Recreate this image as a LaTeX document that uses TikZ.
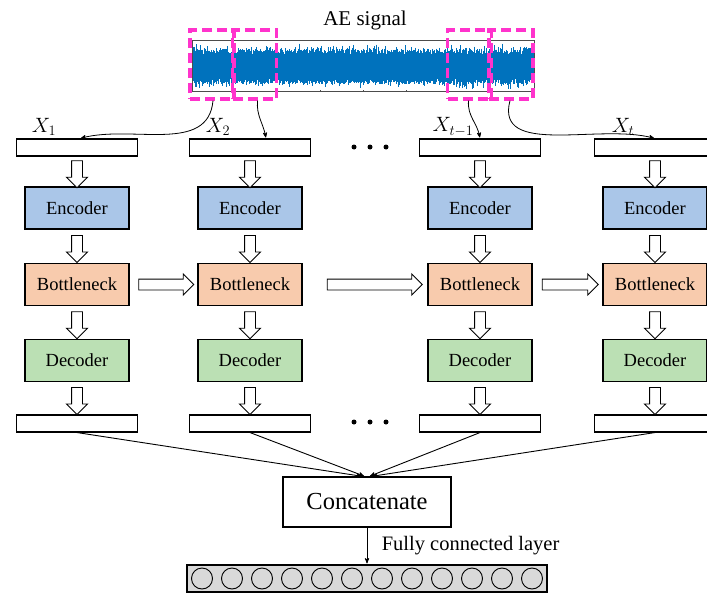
\documentclass[tikz,border=0pt]{standalone}
\usepackage{fontspec}
\setmainfont{Liberation Serif}
\usetikzlibrary{arrows,shapes.arrows,calc}

\definecolor{encblue}{RGB}{170,198,232}
\definecolor{botorange}{RGB}{248,203,173}
\definecolor{decgreen}{RGB}{187,224,180}
\definecolor{aeblue}{RGB}{0,114,189}
\definecolor{winpink}{RGB}{255,51,204}

\begin{document}
\begin{tikzpicture}[x=1pt,y=-1pt,>=stealth',shorten >=1pt,line width=1.1,
    bar/.style={rectangle,draw,fill=white,minimum width=121,minimum height=17,inner sep=0},
    box node/.style={rectangle,draw,minimum width=104,minimum height=42,inner sep=0,
      font=\fontsize{18.5}{20}\selectfont},
    enc node/.style={box node,fill=encblue},
    bot node/.style={box node,fill=botorange},
    dec node/.style={box node,fill=decgreen},
    fat arrow/.style={single arrow,draw,fill=white,line width=0.9,minimum width=20,
      single arrow head extend=5,inner sep=5},
    fat down/.style={fat arrow,shape border rotate=270,minimum height=27},
    win/.style={draw=winpink,line width=3.2,dash pattern=on 10 off 5,
      minimum width=44,minimum height=69,inner sep=0},
    xlab/.style={font=\fontsize{20}{20}\selectfont},
    dot/.style={circle,fill,minimum size=5,inner sep=0},
    neuron/.style={circle,draw,fill=gray!30,line width=0.9,minimum size=21,inner sep=0}]
  \useasboundingbox (0,0) rectangle (707,594);

  % AE signal
  \node[font=\fontsize{21}{21}\selectfont] (title) at (365,20) {AE signal};
  \pgfmathsetseed{3}
  \foreach \i in {0,...,570}{
    \pgfmathsetmacro\up{13+5*rnd+6*rnd^6}
    \pgfmathsetmacro\dn{13+5*rnd+6*rnd^6}
    \draw[aeblue,line width=0.8] (192.5+\i*0.6,67-\up) -- (192.5+\i*0.6,67+\dn);
  }
  \draw[black!70,line width=0.7] (192,40.5) rectangle (534,91);
  \foreach \k in {0,...,8}{
    \draw[black!70,line width=0.5] (192+42.75*\k,91) -- ++(0,-2);
    \draw[black!70,line width=0.5] (192+42.75*\k,40.5) -- ++(0,2);
  }
  \node[win] (w1) at (212,64.5) {};
  \node[win] (w2) at (254.5,64.5) {};
  \node[win] (w3) at (469.5,64.5) {};
  \node[win] (w4) at (511,64.5) {};

  % columns
  \foreach \i/\x in {1/77,2/250,3/480,4/655}{
    \node[bar] (in\i) at (\x,147.5) {};
    \node[enc node] (enc\i) at (\x,208) {Encoder};
    \node[bot node] (bot\i) at (\x,284.5) {Bottleneck};
    \node[dec node] (dec\i) at (\x,360.5) {Decoder};
    \node[bar] (out\i) at (\x,423.5) {};
    \node[fat down] (a\i) at ($(in\i.south)!0.5!(enc\i.north)$) {};
    \node[fat down] (b\i) at ($(enc\i.south)!0.5!(bot\i.north)$) {};
    \node[fat down] (c\i) at ($(bot\i.south)!0.5!(dec\i.north)$) {};
    \node[fat down] (d\i) at ($(dec\i.south)!0.5!(out\i.north)$) {};
  }
  \node[fat arrow,minimum height=55] (h1) at ($(bot1.east)!0.5!(bot2.west)$) {};
  \node[fat arrow,minimum height=95] (h2) at ([xshift=7]$(bot2.east)!0.5!(bot3.west)$) {};
  \node[fat arrow,minimum height=56] (h3) at ($(bot3.east)!0.5!(bot4.west)$) {};

  \foreach \d in {0,1,2}{
    \node[dot] (ta\d) at (354+16*\d,147) {};
    \node[dot] (tb\d) at (354+16*\d,422) {};
  }

  \node[xlab] (x1) at (44,127) {$X_1$};
  \node[xlab] (x2) at (218,127) {$X_2$};
  \node[xlab] (x3) at (453,127) {$X_{t-1}$};
  \node[xlab] (x4) at (623,127) {$X_t$};

  \path[->,line width=0.8]
    ([xshift=1]w1.south) edge [out=-95,in=15] ([xshift=3]in1.north)
    ([xshift=3]w2.south) edge [out=-95,in=100] ([xshift=16]in2.north)
    ([xshift=-1]w3.south) edge [out=-95,in=100] (in3.north)
    ([xshift=-1]w4.south) edge [out=-105,in=165] (in4.north);

  % concatenate and fully connected layer
  \node[rectangle,draw,minimum width=168,minimum height=50,
        font=\fontsize{24.5}{25}\selectfont] (cat) at (367,502) {Concatenate};
  \path[->,line width=0.9]
    (out1.south) edge ([xshift=-4]cat.north)
    (out2.south) edge ([xshift=-2]cat.north)
    (out3.south) edge ([xshift=2]cat.north)
    (out4.south) edge ([xshift=4]cat.north);
  \node[rectangle,draw,fill=gray!30,minimum width=360,minimum height=27] (fc) at (367,578.5) {};
  \foreach \k in {0,...,11}
    \node[neuron] (n\k) at (202+30*\k,578.5) {};
  \draw[->,line width=0.9] (cat) -- node[right,xshift=11,font=\fontsize{20.5}{21}\selectfont]
    {Fully connected layer} (fc);
\end{tikzpicture}
\end{document}
